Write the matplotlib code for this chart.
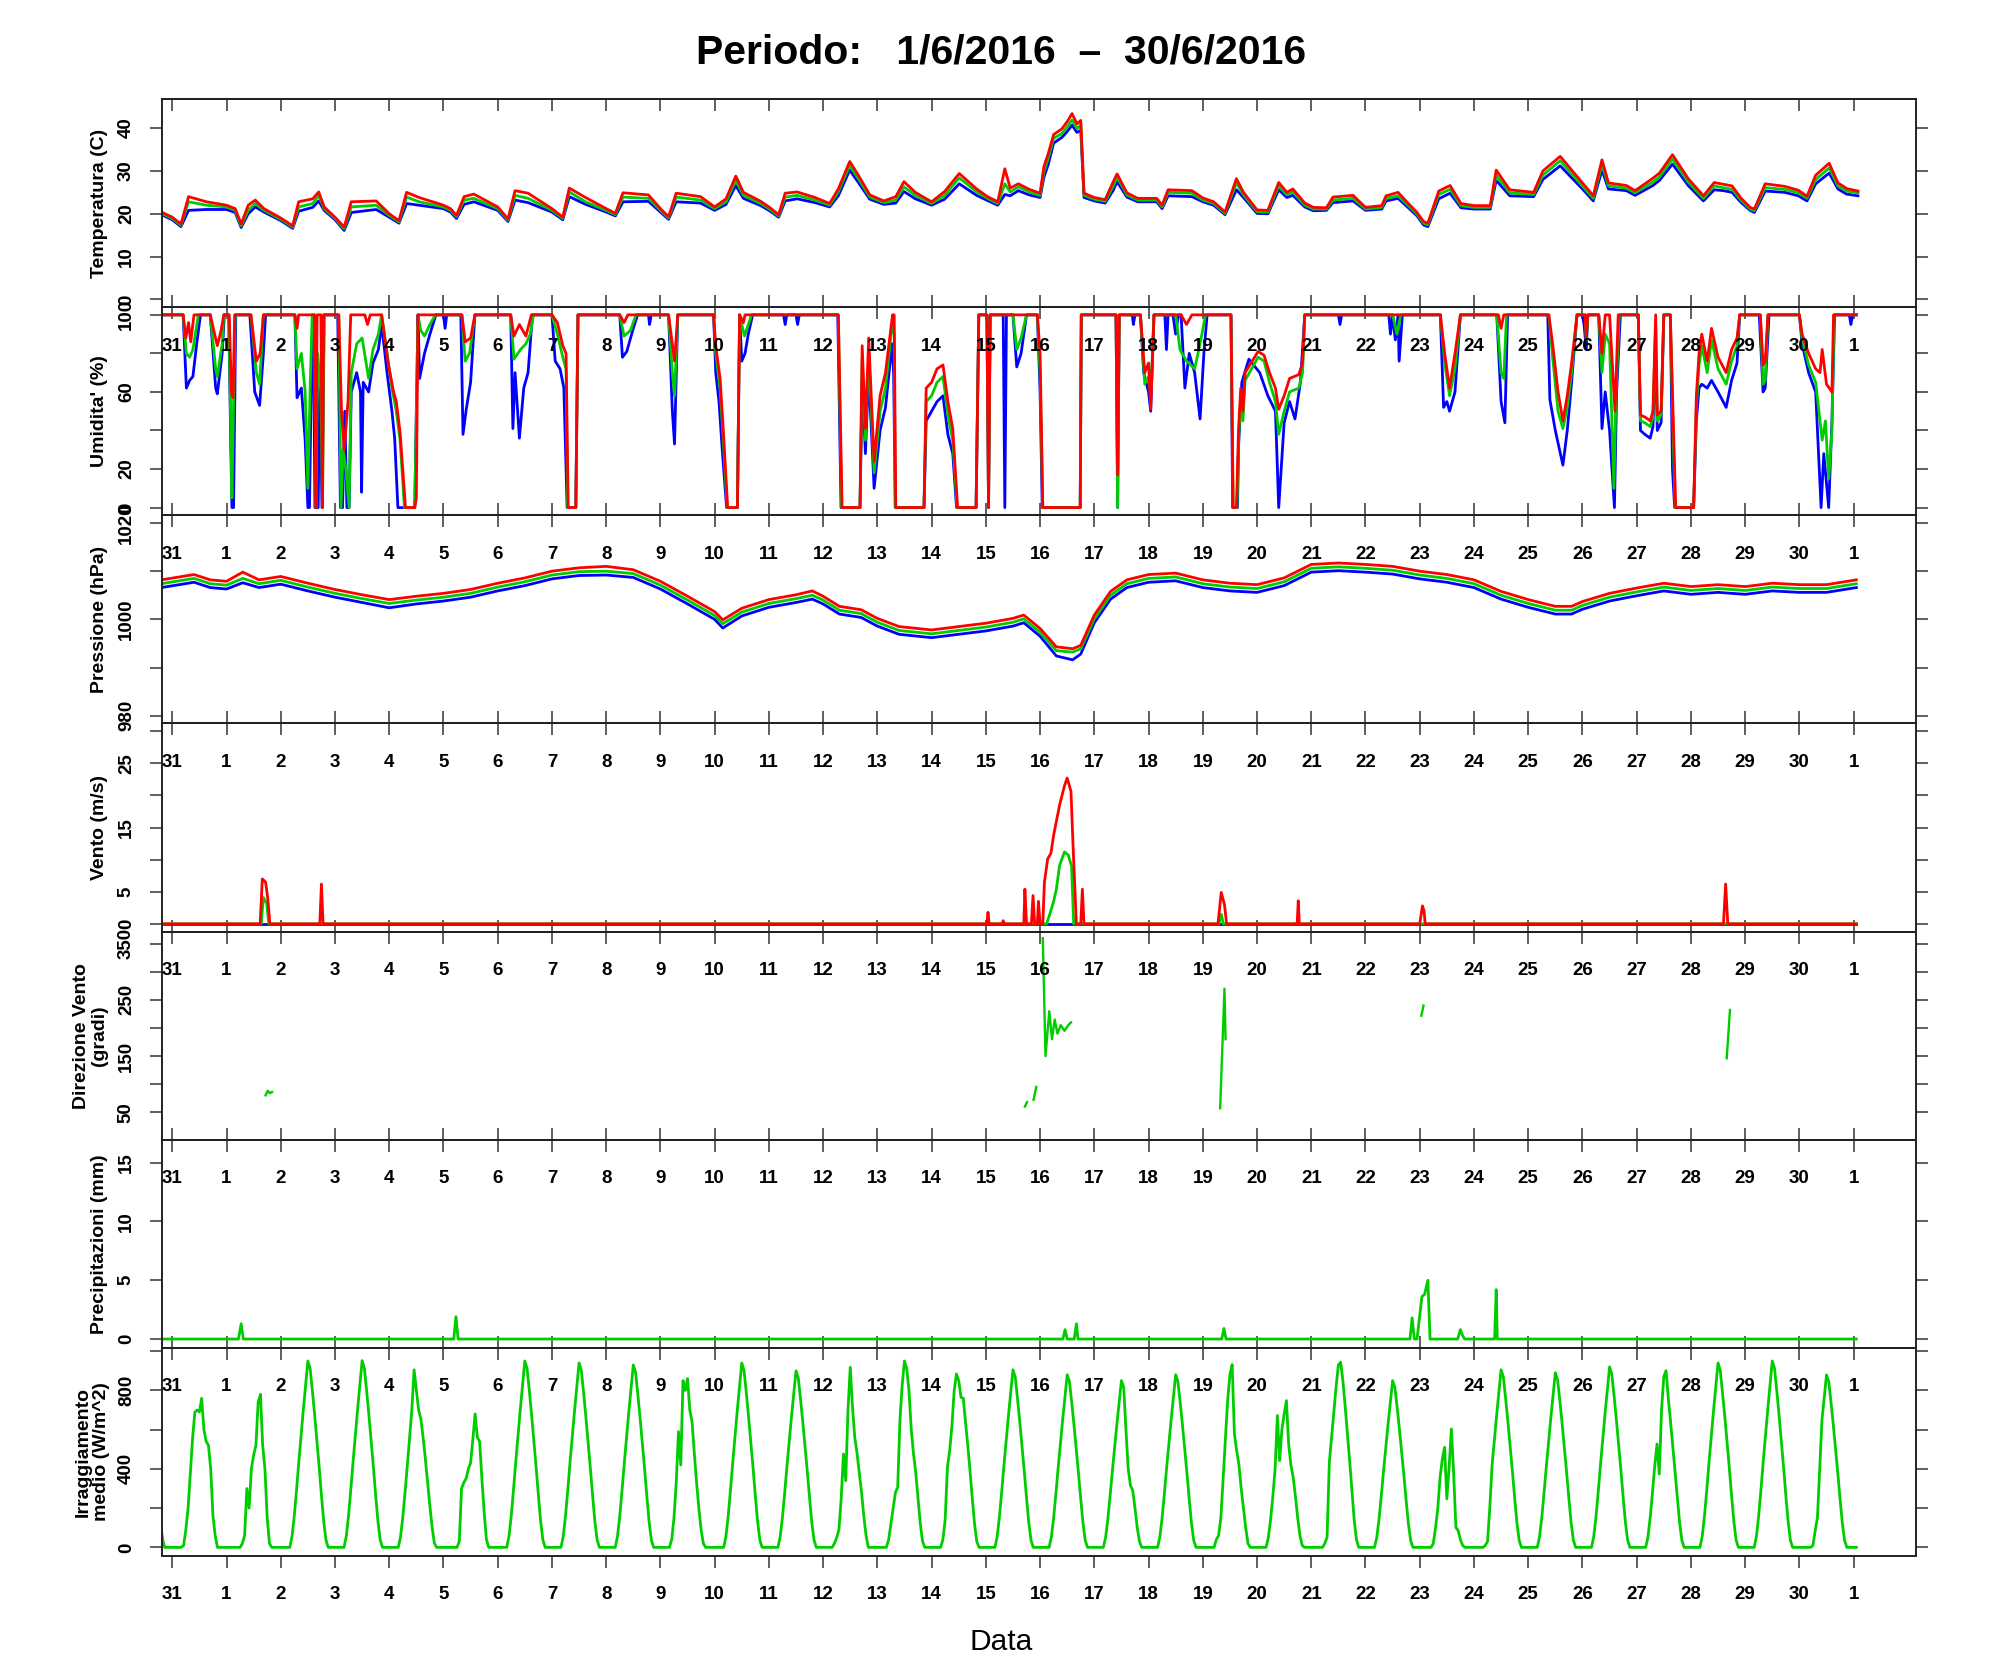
import numpy as np
import matplotlib
matplotlib.use("Agg")
import matplotlib.pyplot as plt

plt.rcParams['font.family'] = ['Liberation Sans', 'DejaVu Sans']

# ---------------- DATA (x = days since 1 June 2016 00:00) ----------------
day_ticks = list(range(-1, 31))
day_labels = ['31'] + [str(i) for i in range(1, 31)] + ['1']

# Temperature: (t, min/blue, mean/green, max/red)
temp_rows = [
    (-1.20, 19.8, 20.1, 20.4), (-1.00, 18.6, 18.9, 19.2), (-0.84, 17.0, 17.3, 17.6),
    (-0.70, 20.8, 22.8, 24.0), (-0.37, 21.0, 22.0, 22.8), (0.00, 21.0, 21.6, 22.0),
    (0.16, 20.3, 20.8, 21.2), (0.27, 16.8, 17.2, 17.6), (0.40, 20.0, 20.8, 22.0),
    (0.53, 21.6, 22.4, 23.2), (0.69, 20.4, 20.8, 21.2), (1.00, 18.4, 18.7, 19.0),
    (1.22, 16.6, 16.9, 17.2), (1.33, 20.6, 21.6, 22.8), (1.59, 21.5, 22.4, 23.5),
    (1.70, 23.0, 24.3, 25.1), (1.80, 20.8, 21.2, 21.6), (2.00, 18.6, 18.9, 19.2),
    (2.17, 16.1, 16.5, 16.9), (2.30, 20.3, 21.6, 22.8), (2.76, 21.0, 22.0, 23.0),
    (3.00, 19.2, 19.6, 20.0), (3.18, 17.8, 18.1, 18.4), (3.32, 22.4, 23.9, 25.0),
    (3.55, 22.0, 22.8, 23.8), (4.00, 21.2, 21.6, 22.0), (4.13, 20.4, 20.8, 21.2),
    (4.24, 18.9, 19.3, 19.6), (4.38, 22.2, 23.2, 24.0), (4.56, 22.8, 23.6, 24.6),
    (5.00, 20.8, 21.2, 21.6), (5.19, 18.2, 18.5, 18.8), (5.32, 23.2, 24.3, 25.4),
    (5.56, 22.6, 23.6, 24.8), (6.00, 20.4, 20.8, 21.2), (6.20, 18.6, 18.9, 19.2),
    (6.32, 24.0, 25.1, 26.0), (6.62, 22.2, 22.8, 23.8), (7.00, 20.4, 20.8, 21.2),
    (7.17, 19.5, 19.8, 20.1), (7.31, 22.8, 23.9, 24.9), (7.78, 22.9, 23.6, 24.4),
    (8.00, 20.4, 20.8, 21.2), (8.15, 18.7, 19.0, 19.3), (8.29, 22.8, 23.9, 24.8),
    (8.74, 22.5, 23.2, 24.0), (9.00, 20.8, 21.2, 21.6), (9.21, 22.2, 22.8, 23.5),
    (9.39, 26.6, 27.8, 28.8), (9.53, 23.6, 24.3, 25.0), (9.85, 21.9, 22.4, 22.9),
    (10.00, 20.8, 21.2, 21.6), (10.18, 19.2, 19.5, 19.8), (10.30, 23.0, 23.9, 24.8),
    (10.52, 23.5, 24.3, 25.1), (10.85, 22.6, 23.2, 23.8), (11.12, 21.6, 22.0, 22.4),
    (11.28, 24.2, 25.1, 25.8), (11.49, 30.2, 31.3, 32.2), (11.65, 27.3, 28.2, 29.0),
    (11.86, 23.4, 23.9, 24.4), (12.12, 22.2, 22.6, 23.0), (12.34, 22.5, 23.2, 24.0),
    (12.49, 25.2, 26.3, 27.5), (12.70, 23.5, 24.3, 25.0), (13.00, 22.0, 22.4, 22.8),
    (13.24, 23.4, 24.3, 25.2), (13.51, 27.0, 28.4, 29.4), (13.83, 24.3, 25.1, 25.8),
    (14.03, 23.1, 23.6, 24.0), (14.22, 22.0, 22.4, 22.8), (14.35, 24.5, 27.0, 30.5),
    (14.45, 24.2, 25.1, 26.0), (14.60, 25.4, 26.3, 27.0), (14.80, 24.4, 25.1, 25.7),
    (15.00, 23.8, 24.3, 24.8), (15.07, 28.5, 29.8, 31.0), (15.15, 31.5, 32.9, 34.0),
    (15.25, 36.5, 37.6, 38.5), (15.40, 37.8, 38.7, 39.8), (15.50, 39.2, 40.3, 41.5),
    (15.59, 40.7, 41.9, 43.4), (15.68, 39.0, 39.9, 41.0), (15.75, 39.5, 40.7, 41.8),
    (15.81, 23.8, 24.3, 24.8), (16.00, 23.0, 23.4, 23.8), (16.20, 22.5, 22.9, 23.3),
    (16.35, 25.5, 26.5, 27.5), (16.42, 27.5, 28.6, 29.3), (16.60, 23.9, 24.4, 24.9),
    (16.80, 22.8, 23.2, 23.6), (17.15, 22.8, 23.2, 23.6), (17.25, 21.2, 21.6, 22.0),
    (17.36, 24.2, 25.0, 25.6), (17.80, 24.0, 24.8, 25.4), (18.00, 22.8, 23.2, 23.7),
    (18.20, 22.0, 22.4, 22.8), (18.41, 19.8, 20.1, 20.4), (18.62, 25.6, 27.2, 28.2),
    (18.75, 23.8, 24.4, 25.0), (19.00, 20.1, 20.5, 20.9), (19.20, 20.0, 20.4, 20.8),
    (19.40, 25.6, 26.5, 27.3), (19.55, 23.8, 24.4, 25.0), (19.66, 24.3, 25.1, 25.8),
    (19.88, 21.6, 22.0, 22.5), (20.04, 20.7, 21.1, 21.5), (20.28, 20.8, 21.1, 21.4),
    (20.40, 22.6, 23.2, 23.9), (20.77, 23.0, 23.6, 24.3), (21.00, 20.8, 21.1, 21.5),
    (21.30, 21.1, 21.5, 21.9), (21.38, 23.0, 23.6, 24.2), (21.60, 23.6, 24.2, 25.0),
    (21.79, 21.4, 21.9, 22.4), (21.95, 19.5, 19.9, 20.3), (22.07, 17.4, 17.8, 18.2),
    (22.15, 17.0, 17.4, 17.8), (22.35, 23.5, 24.5, 25.3), (22.56, 24.8, 25.7, 26.6),
    (22.76, 21.4, 21.9, 22.4), (23.00, 21.1, 21.5, 21.9), (23.30, 21.1, 21.5, 21.9),
    (23.41, 27.8, 29.0, 30.2), (23.66, 24.2, 24.9, 25.6), (24.10, 24.0, 24.5, 25.0),
    (24.27, 28.0, 29.0, 30.0), (24.59, 31.2, 32.4, 33.4), (25.00, 25.8, 26.5, 27.2),
    (25.20, 23.0, 23.6, 24.2), (25.36, 30.2, 31.5, 32.6), (25.48, 25.8, 26.5, 27.2),
    (25.81, 25.4, 26.0, 26.6), (25.97, 24.3, 24.9, 25.4), (26.30, 26.6, 27.4, 28.3),
    (26.42, 27.8, 28.6, 29.5), (26.66, 31.6, 32.8, 33.8), (26.95, 26.6, 27.4, 28.2),
    (27.23, 23.0, 23.6, 24.2), (27.43, 25.6, 26.5, 27.3), (27.60, 25.4, 26.1, 26.9),
    (27.76, 25.0, 25.7, 26.5), (27.92, 22.7, 23.2, 23.7), (28.09, 20.8, 21.1, 21.5),
    (28.17, 20.3, 20.7, 21.1), (28.37, 25.3, 26.1, 27.0), (28.73, 25.0, 25.7, 26.4),
    (28.98, 24.2, 24.9, 25.5), (29.14, 23.0, 23.6, 24.1), (29.30, 27.0, 28.0, 29.0),
    (29.55, 29.5, 30.7, 31.8), (29.71, 25.8, 26.5, 27.2), (29.87, 24.6, 25.3, 25.9),
    (30.08, 24.2, 24.9, 25.3),
]

# Humidity breakpoints (t, %) for each series
hum_blue = [
    (-1.2, 100), (-0.80, 100), (-0.74, 62), (-0.68, 66), (-0.62, 68), (-0.55, 85), (-0.48, 100),
    (-0.30, 100), (-0.20, 62), (-0.17, 59), (-0.08, 80), (-0.04, 100),
    (0.04, 100), (0.08, 30), (0.10, 0), (0.13, 0), (0.17, 100),
    (0.43, 100), (0.52, 60), (0.61, 53), (0.68, 80), (0.72, 100),
    (1.26, 100), (1.30, 57), (1.38, 62), (1.45, 35), (1.50, 0), (1.53, 0), (1.57, 80), (1.60, 100),
    (1.63, 0), (1.69, 0), (1.72, 70), (1.76, 0), (1.80, 100),
    (2.05, 100), (2.10, 0), (2.14, 0), (2.18, 50), (2.22, 0), (2.26, 0), (2.30, 60), (2.40, 70),
    (2.47, 60), (2.49, 8), (2.52, 65), (2.62, 60), (2.70, 75), (2.80, 82), (2.86, 95),
    (2.96, 70), (3.05, 50), (3.10, 36), (3.16, 0), (3.47, 0), (3.53, 100), (3.56, 67), (3.65, 80),
    (3.75, 90), (3.86, 100), (4.00, 100), (4.03, 93), (4.06, 100),
    (4.32, 100), (4.36, 38), (4.42, 51), (4.50, 65), (4.58, 100),
    (5.24, 100), (5.28, 41), (5.32, 70), (5.40, 36), (5.48, 62), (5.56, 70), (5.64, 100),
    (6.00, 100), (6.06, 76), (6.15, 72), (6.22, 62), (6.28, 0), (6.44, 0), (6.48, 100),
    (7.25, 100), (7.30, 78), (7.38, 81), (7.50, 93), (7.58, 100), (7.78, 100), (7.80, 95), (7.83, 100),
    (8.15, 100), (8.22, 50), (8.26, 33), (8.32, 100),
    (8.98, 100), (9.02, 70), (9.08, 55), (9.14, 30), (9.22, 0), (9.42, 0), (9.46, 100), (9.50, 76),
    (9.56, 80), (9.62, 90), (9.70, 100),
    (10.27, 100), (10.30, 95), (10.33, 100), (10.50, 100), (10.53, 95), (10.56, 100),
    (11.27, 100), (11.33, 0), (11.68, 0), (11.72, 66), (11.78, 28), (11.84, 70), (11.94, 10),
    (12.05, 40), (12.15, 52), (12.27, 85), (12.30, 70), (12.33, 0), (12.86, 0), (12.90, 45),
    (13.00, 50), (13.10, 55), (13.21, 58), (13.30, 38), (13.39, 28), (13.46, 0), (13.82, 0),
    (13.87, 100), (14.02, 100), (14.05, 0), (14.08, 100), (14.32, 100), (14.35, 0), (14.38, 100),
    (14.50, 100), (14.57, 73), (14.65, 80), (14.75, 100),
    (14.95, 100), (15.00, 60), (15.04, 0), (15.74, 0), (15.76, 100),
    (16.40, 100), (16.43, 0), (16.46, 100), (16.70, 100), (16.72, 95), (16.75, 100),
    (16.85, 100), (16.91, 70), (17.00, 60), (17.04, 50), (17.10, 100),
    (17.30, 100), (17.33, 82), (17.36, 100), (17.45, 100), (17.50, 90), (17.55, 100),
    (17.60, 100), (17.67, 62), (17.75, 80), (17.85, 70), (17.95, 46), (18.02, 80), (18.08, 100),
    (18.52, 100), (18.55, 0), (18.64, 0), (18.66, 32), (18.72, 65), (18.85, 77), (19.05, 70),
    (19.20, 58), (19.34, 50), (19.40, 0), (19.50, 44), (19.60, 55), (19.70, 46), (19.80, 65),
    (19.88, 100), (20.50, 100), (20.53, 95), (20.56, 100),
    (21.43, 100), (21.46, 90), (21.50, 100), (21.55, 87), (21.60, 100), (21.62, 76), (21.68, 100),
    (22.38, 100), (22.44, 52), (22.50, 55), (22.55, 50), (22.65, 60), (22.75, 100),
    (23.42, 100), (23.50, 55), (23.57, 44), (23.62, 100),
    (24.36, 100), (24.40, 56), (24.50, 40), (24.64, 22), (24.72, 40), (24.80, 65), (24.90, 100),
    (25.00, 100), (25.03, 95), (25.07, 82), (25.10, 100),
    (25.30, 100), (25.36, 41), (25.42, 60), (25.50, 40), (25.59, 0), (25.63, 60), (25.70, 100),
    (26.03, 100), (26.07, 40), (26.15, 38), (26.25, 36), (26.30, 42), (26.35, 80), (26.38, 40),
    (26.45, 44), (26.50, 100),
    (26.62, 100), (26.66, 20), (26.70, 0), (27.05, 0), (27.10, 45), (27.15, 62), (27.20, 64),
    (27.30, 62), (27.38, 66), (27.50, 60), (27.65, 52), (27.75, 66), (27.85, 75), (27.90, 100),
    (28.26, 100), (28.33, 60), (28.37, 62), (28.44, 100),
    (29.00, 100), (29.05, 85), (29.17, 70), (29.30, 60), (29.40, 0), (29.45, 28), (29.54, 0),
    (29.60, 45), (29.65, 100), (29.92, 100), (29.95, 95), (29.98, 100), (30.05, 100),
]
hum_green = [
    (-1.2, 100), (-0.80, 100), (-0.74, 80), (-0.68, 78), (-0.62, 82), (-0.52, 100),
    (-0.30, 100), (-0.20, 72), (-0.17, 68), (-0.08, 85), (-0.05, 100),
    (0.04, 100), (0.08, 40), (0.10, 5), (0.12, 40), (0.16, 100),
    (0.45, 100), (0.55, 70), (0.61, 64), (0.68, 100),
    (1.26, 100), (1.30, 72), (1.38, 80), (1.45, 60), (1.50, 10), (1.54, 60), (1.58, 100),
    (1.62, 100), (1.65, 0), (1.68, 80), (1.74, 60), (1.77, 0), (1.80, 100),
    (2.07, 100), (2.11, 0), (2.15, 30), (2.20, 20), (2.26, 0), (2.30, 70), (2.40, 85), (2.50, 88),
    (2.62, 67), (2.70, 82), (2.80, 90), (2.86, 100),
    (2.96, 80), (3.05, 62), (3.13, 50), (3.20, 35), (3.28, 0), (3.47, 0), (3.53, 100), (3.58, 92),
    (3.65, 89), (3.75, 95), (3.85, 100),
    (4.34, 100), (4.40, 76), (4.48, 80), (4.58, 100),
    (5.24, 100), (5.30, 77), (5.42, 82), (5.52, 85), (5.60, 90), (5.66, 100),
    (6.00, 100), (6.10, 90), (6.20, 78), (6.26, 72), (6.29, 0), (6.44, 0), (6.48, 100),
    (7.25, 100), (7.33, 89), (7.45, 92), (7.55, 100),
    (8.15, 100), (8.22, 70), (8.26, 58), (8.32, 100),
    (8.98, 100), (9.02, 80), (9.10, 62), (9.16, 35), (9.23, 0), (9.42, 0), (9.46, 100), (9.55, 89),
    (9.62, 95), (9.68, 100),
    (11.28, 100), (11.34, 0), (11.68, 0), (11.72, 78), (11.78, 35), (11.84, 80), (11.94, 18),
    (12.05, 50), (12.15, 62), (12.27, 95), (12.31, 90), (12.33, 0), (12.86, 0), (12.90, 55),
    (13.00, 58), (13.10, 65), (13.21, 68), (13.30, 48), (13.39, 35), (13.47, 0), (13.82, 0),
    (13.87, 100), (14.02, 100), (14.05, 0), (14.08, 100),
    (14.50, 100), (14.57, 82), (14.65, 88), (14.75, 100),
    (14.95, 100), (15.00, 70), (15.05, 0), (15.74, 0), (15.76, 100),
    (16.40, 100), (16.43, 0), (16.46, 100),
    (16.85, 100), (16.93, 64), (17.00, 68), (17.04, 58), (17.10, 100),
    (17.50, 100), (17.58, 82), (17.70, 76), (17.85, 72), (17.95, 85), (18.05, 100),
    (18.52, 100), (18.56, 0), (18.63, 0), (18.66, 35), (18.70, 58), (18.74, 45), (18.78, 66),
    (19.02, 78), (19.13, 76), (19.23, 65), (19.34, 55), (19.40, 38), (19.50, 50), (19.60, 60),
    (19.77, 62), (19.84, 70), (19.88, 100),
    (21.50, 100), (21.58, 90), (21.65, 100),
    (22.38, 100), (22.46, 75), (22.55, 58), (22.65, 72), (22.75, 100),
    (23.42, 100), (23.50, 70), (23.55, 67), (23.60, 100),
    (24.38, 100), (24.45, 78), (24.55, 50), (24.64, 41), (24.72, 52), (24.80, 70), (24.90, 100),
    (25.05, 100), (25.07, 87), (25.10, 100),
    (25.30, 100), (25.36, 70), (25.42, 90), (25.50, 85), (25.58, 10), (25.62, 60), (25.68, 100),
    (26.03, 100), (26.07, 45), (26.15, 44), (26.25, 42), (26.30, 47), (26.35, 95), (26.38, 45),
    (26.45, 48), (26.50, 100),
    (26.62, 100), (26.68, 30), (26.71, 0), (27.05, 0), (27.10, 52), (27.15, 74), (27.20, 84),
    (27.30, 70), (27.38, 87), (27.50, 72), (27.65, 64), (27.75, 76), (27.85, 84), (27.90, 100),
    (28.28, 100), (28.33, 64), (28.37, 66), (28.42, 100),
    (29.00, 100), (29.05, 88), (29.17, 74), (29.30, 65), (29.42, 35), (29.48, 45), (29.54, 15),
    (29.60, 40), (29.64, 100), (30.05, 100),
]
hum_red = [
    (-1.2, 100), (-0.80, 100), (-0.75, 88), (-0.70, 96), (-0.66, 86), (-0.60, 100),
    (-0.30, 100), (-0.22, 90), (-0.17, 84), (-0.10, 92), (-0.05, 100),
    (0.05, 100), (0.09, 60), (0.12, 57), (0.15, 100),
    (0.45, 100), (0.55, 76), (0.62, 80), (0.68, 100),
    (1.26, 100), (1.30, 93), (1.33, 100), (1.62, 100), (1.65, 0), (1.67, 100), (1.74, 100),
    (1.77, 0), (1.79, 100),
    (2.07, 100), (2.12, 50), (2.17, 30), (2.24, 55), (2.29, 100), (2.55, 100), (2.60, 95), (2.65, 100),
    (2.86, 100), (2.98, 75), (3.08, 60), (3.13, 55), (3.20, 39), (3.30, 0), (3.47, 0), (3.50, 5),
    (3.53, 100),
    (4.34, 100), (4.40, 86), (4.50, 88), (4.58, 100),
    (5.24, 100), (5.30, 89), (5.40, 95), (5.52, 89), (5.62, 100),
    (6.00, 100), (6.10, 96), (6.20, 84), (6.26, 80), (6.30, 0), (6.44, 0), (6.48, 100),
    (7.25, 100), (7.33, 96), (7.40, 100),
    (8.15, 100), (8.22, 85), (8.26, 76), (8.32, 100),
    (8.98, 100), (9.02, 84), (9.10, 67), (9.16, 40), (9.24, 0), (9.42, 0), (9.46, 100), (9.53, 96),
    (9.56, 100),
    (11.28, 100), (11.35, 0), (11.68, 0), (11.72, 84), (11.78, 41), (11.84, 88), (11.94, 24),
    (12.05, 58), (12.15, 70), (12.28, 100), (12.31, 100), (12.34, 0), (12.86, 0), (12.90, 62),
    (13.00, 65), (13.10, 72), (13.21, 74), (13.30, 55), (13.39, 41), (13.48, 0), (13.82, 0),
    (13.87, 100), (14.02, 100), (14.05, 0), (14.08, 100),
    (14.95, 100), (15.00, 80), (15.05, 0), (15.74, 0), (15.76, 100),
    (16.40, 100), (16.43, 17), (16.46, 100),
    (16.85, 100), (16.93, 70), (17.00, 75), (17.04, 51), (17.10, 100),
    (17.60, 100), (17.70, 95), (17.80, 100),
    (18.52, 100), (18.56, 0), (18.62, 0), (18.66, 41), (18.70, 62), (18.74, 50), (18.78, 70),
    (19.02, 81), (19.13, 79), (19.23, 70), (19.34, 62), (19.40, 51), (19.50, 58), (19.60, 67),
    (19.77, 69), (19.84, 75), (19.88, 100),
    (22.38, 100), (22.46, 80), (22.55, 62), (22.65, 80), (22.75, 100),
    (23.45, 100), (23.50, 93), (23.55, 100),
    (24.38, 100), (24.45, 85), (24.55, 60), (24.64, 45), (24.72, 58), (24.80, 75), (24.90, 100),
    (25.05, 100), (25.07, 88), (25.10, 100),
    (25.30, 100), (25.36, 80), (25.42, 100), (25.50, 100), (25.55, 75), (25.60, 50), (25.66, 100),
    (26.03, 100), (26.07, 48), (26.15, 47), (26.25, 45), (26.30, 50), (26.35, 100), (26.38, 48),
    (26.45, 50), (26.50, 100),
    (26.62, 100), (26.68, 39), (26.72, 0), (27.05, 0), (27.10, 58), (27.15, 80), (27.20, 90),
    (27.30, 76), (27.38, 93), (27.50, 78), (27.65, 70), (27.75, 82), (27.85, 88), (27.90, 100),
    (28.28, 100), (28.33, 74), (28.37, 76), (28.42, 100),
    (29.00, 100), (29.05, 90), (29.17, 80), (29.30, 72), (29.38, 70), (29.42, 82), (29.50, 64),
    (29.60, 60), (29.63, 100), (30.05, 100),
]

# Pressure (t, blue, green, red) in hPa
pres_rows = [
    (-1.2, 1006.6, 1007.4, 1008.2), (-0.6, 1007.7, 1008.5, 1009.3), (-0.3, 1006.6, 1007.4, 1008.2),
    (0.0, 1006.3, 1007.1, 1007.9), (0.3, 1007.6, 1008.5, 1009.8), (0.6, 1006.6, 1007.4, 1008.2),
    (1.0, 1007.3, 1008.1, 1008.9), (1.5, 1005.9, 1006.7, 1007.5), (2.0, 1004.6, 1005.4, 1006.2),
    (2.5, 1003.5, 1004.3, 1005.1), (3.0, 1002.4, 1003.3, 1004.1), (3.5, 1003.2, 1004.0, 1004.8),
    (4.0, 1003.8, 1004.6, 1005.4), (4.5, 1004.6, 1005.4, 1006.2), (5.0, 1005.9, 1006.7, 1007.5),
    (5.5, 1007.0, 1007.8, 1008.6), (6.0, 1008.4, 1009.2, 1010.0), (6.5, 1009.1, 1009.9, 1010.7),
    (7.0, 1009.2, 1010.0, 1011.0), (7.5, 1008.7, 1009.5, 1010.3), (8.0, 1006.3, 1007.1, 1007.9),
    (8.5, 1003.2, 1004.0, 1004.8), (9.0, 1000.0, 1000.8, 1001.6), (9.15, 998.2, 999.1, 999.9),
    (9.5, 1000.7, 1001.5, 1002.3), (10.0, 1002.5, 1003.3, 1004.1), (10.5, 1003.5, 1004.3, 1005.1),
    (10.8, 1004.2, 1005.0, 1005.9), (11.0, 1003.2, 1004.0, 1004.8), (11.3, 1001.1, 1001.9, 1002.7),
    (11.7, 1000.4, 1001.2, 1002.0), (12.0, 998.6, 999.4, 1000.2), (12.4, 996.9, 997.7, 998.5),
    (13.0, 996.2, 997.0, 997.8), (13.5, 996.9, 997.7, 998.5), (14.0, 997.6, 998.4, 999.2),
    (14.5, 998.6, 999.4, 1000.2), (14.7, 999.3, 1000.1, 1000.9), (15.0, 996.5, 997.3, 998.1),
    (15.3, 992.4, 993.5, 994.3), (15.6, 991.6, 993.2, 993.9), (15.75, 992.8, 993.9, 994.6),
    (16.0, 999.3, 1000.1, 1000.9), (16.3, 1004.2, 1005.0, 1005.8), (16.6, 1006.6, 1007.4, 1008.2),
    (17.0, 1007.7, 1008.5, 1009.3), (17.5, 1008.0, 1008.8, 1009.6), (18.0, 1006.6, 1007.4, 1008.2),
    (18.5, 1005.9, 1006.7, 1007.5), (19.0, 1005.6, 1006.4, 1007.2), (19.5, 1007.0, 1007.8, 1008.6),
    (20.0, 1009.8, 1010.6, 1011.4), (20.5, 1010.1, 1010.9, 1011.7), (21.0, 1009.8, 1010.6, 1011.4),
    (21.5, 1009.4, 1010.2, 1011.0), (22.0, 1008.4, 1009.2, 1010.0), (22.5, 1007.7, 1008.5, 1009.3),
    (23.0, 1006.6, 1007.4, 1008.2), (23.5, 1004.2, 1005.0, 1005.8), (24.0, 1002.5, 1003.3, 1004.1),
    (24.5, 1001.1, 1001.9, 1002.7), (24.8, 1001.1, 1001.9, 1002.7), (25.0, 1002.1, 1002.9, 1003.7),
    (25.5, 1003.8, 1004.6, 1005.4), (26.0, 1004.9, 1005.7, 1006.5), (26.5, 1005.9, 1006.7, 1007.5),
    (27.0, 1005.2, 1006.0, 1006.8), (27.5, 1005.6, 1006.4, 1007.2), (28.0, 1005.2, 1006.0, 1006.8),
    (28.5, 1005.9, 1006.7, 1007.5), (29.0, 1005.6, 1006.4, 1007.2), (29.5, 1005.6, 1006.4, 1007.2),
    (30.05, 1006.6, 1007.4, 1008.2),
]

# Wind speed (m/s)
wind_blue = [(-1.2, 0), (30.05, 0)]
wind_green = [
    (-1.2, 0), (0.64, 0), (0.68, 4.1), (0.74, 3.2), (0.78, 0),
    (15.12, 0), (15.19, 1.8), (15.25, 3.5), (15.30, 5.4), (15.36, 9.1), (15.45, 11.2),
    (15.52, 10.7), (15.58, 9.0), (15.62, 0),
    (18.30, 0), (18.34, 1.5), (18.38, 0), (30.05, 0),
]
wind_red = [
    (-1.2, 0), (0.62, 0), (0.66, 7.0), (0.72, 6.5), (0.76, 4.0), (0.80, 0),
    (1.72, 0), (1.75, 6.2), (1.78, 0),
    (14.02, 0), (14.04, 1.8), (14.06, 0), (14.30, 0), (14.32, 0.5), (14.34, 0),
    (14.70, 0), (14.72, 5.4), (14.75, 0), (14.84, 0), (14.87, 4.4), (14.90, 0),
    (14.95, 0), (14.97, 3.5), (15.00, 0),
    (15.05, 0), (15.08, 6.5), (15.14, 10.1), (15.20, 11.0), (15.25, 13.8), (15.36, 18.5),
    (15.45, 21.5), (15.50, 22.7), (15.57, 20.6), (15.61, 11.7), (15.67, 0),
    (15.75, 0), (15.78, 5.4), (15.81, 0),
    (18.28, 0), (18.34, 4.9), (18.40, 3.0), (18.44, 0),
    (19.74, 0), (19.76, 3.6), (19.78, 0),
    (22.00, 0), (22.05, 2.8), (22.08, 2.0), (22.10, 0),
    (27.60, 0), (27.64, 6.2), (27.68, 0), (30.05, 0),
]

# Wind direction (degrees): separate observed fragments
dir_segments = [
    [(0.72, 80), (0.76, 88), (0.80, 84), (0.84, 86)],
    [(14.72, 60), (14.76, 68)],
    [(14.88, 72), (14.93, 95)],
    [(15.05, 360), (15.10, 150), (15.17, 230), (15.22, 180), (15.27, 215), (15.32, 190),
     (15.38, 205), (15.45, 195), (15.52, 205), (15.57, 210)],
    [(18.32, 57), (18.40, 270), (18.42, 180)],
    [(22.03, 222), (22.07, 240)],
    [(27.66, 146), (27.72, 232)],
]

# Precipitation (mm)
rain = [
    (-1.2, 0), (0.22, 0), (0.27, 1.3), (0.31, 0),
    (4.19, 0), (4.23, 1.9), (4.27, 0),
    (15.42, 0), (15.46, 0.8), (15.50, 0), (15.63, 0), (15.67, 1.3), (15.70, 0),
    (18.35, 0), (18.39, 0.9), (18.43, 0),
    (21.82, 0), (21.86, 1.8), (21.90, 0), (21.95, 0), (22.04, 3.6), (22.09, 3.8), (22.15, 5.0),
    (22.19, 0), (22.70, 0), (22.75, 0.8), (22.79, 0.3), (22.83, 0),
    (23.38, 0), (23.41, 4.2), (23.43, 0), (30.05, 0),
]

# Mean irradiance (W/m^2): hourly values 04:00..21:00 for each day (31 May .. 30 June)
irr_hours = list(range(4, 22))
irr_days = list(range(-1, 30))
irr_rows = [
    [0, 10, 90, 200, 380, 560, 690, 700, 690, 760, 600, 540, 520, 400, 160, 60, 0, 0],
    [0, 0, 0, 20, 60, 300, 200, 400, 470, 520, 740, 780, 520, 400, 150, 20, 0, 0],
    [0, 57, 162, 295, 437, 570, 703, 827, 950, 912, 798, 675, 542, 409, 266, 133, 38, 0],
    [0, 57, 162, 295, 437, 570, 703, 827, 952, 912, 798, 675, 542, 409, 266, 133, 38, 0],
    [0, 54, 154, 281, 416, 560, 700, 905, 800, 700, 655, 560, 450, 330, 210, 100, 20, 0],
    [0, 0, 0, 30, 300, 330, 350, 400, 430, 550, 680, 560, 540, 350, 180, 40, 0, 0],
    [0, 57, 162, 295, 437, 570, 703, 827, 950, 912, 798, 675, 542, 409, 266, 133, 38, 0],
    [0, 56, 160, 291, 432, 564, 696, 818, 940, 902, 790, 667, 536, 404, 263, 132, 38, 0],
    [0, 56, 158, 288, 428, 558, 688, 809, 930, 893, 781, 660, 530, 400, 260, 130, 37, 0],
    [0, 40, 150, 330, 590, 420, 850, 800, 860, 700, 640, 480, 330, 200, 90, 20, 0, 0],
    [0, 56, 160, 291, 432, 564, 696, 818, 940, 902, 790, 667, 536, 404, 263, 132, 38, 0],
    [0, 54, 153, 279, 414, 540, 666, 783, 900, 864, 756, 639, 513, 387, 252, 126, 36, 0],
    [0, 20, 50, 90, 250, 476, 340, 700, 918, 714, 561, 480, 380, 280, 160, 60, 0, 0],
    [0, 40, 120, 200, 280, 306, 650, 830, 950, 912, 798, 600, 476, 380, 250, 120, 30, 0],
    [0, 40, 140, 408, 493, 620, 800, 884, 850, 765, 760, 640, 520, 390, 250, 120, 30, 0],
    [0, 54, 154, 281, 416, 543, 670, 787, 905, 869, 760, 643, 516, 389, 253, 127, 36, 0],
    [0, 53, 150, 273, 405, 528, 651, 766, 880, 845, 739, 625, 502, 378, 246, 123, 35, 0],
    [0, 51, 145, 264, 391, 510, 629, 740, 850, 816, 600, 400, 315, 290, 200, 100, 30, 0],
    [0, 53, 150, 273, 405, 528, 651, 766, 880, 845, 739, 625, 502, 378, 246, 123, 35, 0],
    [0, 0, 40, 60, 150, 350, 550, 750, 880, 932, 578, 493, 420, 300, 200, 100, 20, 0],
    [0, 50, 140, 260, 400, 672, 442, 600, 680, 748, 527, 420, 357, 260, 150, 60, 10, 0],
    [0, 0, 20, 51, 434, 560, 690, 820, 930, 944, 850, 720, 580, 440, 290, 140, 40, 0],
    [0, 51, 145, 264, 391, 510, 629, 740, 850, 816, 714, 604, 485, 366, 238, 119, 34, 0],
    [0, 0, 20, 100, 200, 357, 450, 510, 247, 408, 604, 380, 102, 85, 40, 10, 0, 0],
    [0, 10, 30, 200, 416, 543, 670, 787, 905, 869, 760, 643, 516, 389, 253, 127, 36, 0],
    [0, 53, 151, 276, 409, 534, 659, 774, 890, 854, 748, 632, 507, 383, 249, 125, 36, 0],
    [0, 55, 156, 285, 423, 552, 681, 800, 920, 883, 773, 653, 524, 396, 258, 129, 37, 0],
    [0, 54, 154, 281, 416, 527, 374, 700, 870, 901, 760, 640, 510, 385, 250, 125, 36, 0],
    [0, 56, 160, 291, 432, 564, 696, 818, 940, 902, 782, 667, 536, 404, 263, 132, 38, 0],
    [0, 57, 162, 295, 437, 570, 703, 827, 950, 912, 798, 675, 542, 409, 266, 133, 38, 0],
    [0, 0, 10, 85, 153, 400, 651, 766, 879, 845, 739, 625, 502, 378, 246, 123, 35, 0],
]
irr_lead = [(-1.21, 100), (-1.17, 30), (-1.14, 0)]
irr_tail = [(30.05, 0)]

# ---------------- FIGURE ----------------
W, H = 1991, 1680
fig = plt.figure(figsize=(W / 100, H / 100), dpi=100)
fig.patch.set_facecolor('white')

BLUE, GREEN, RED = '#0000FF', '#00CD00', '#FF0000'
LW = 2.0
XMIN, XMAX = -1.197, 31.15
left_px, right_px, top_px, bot_px = 161.6, 1916.0, 99.0, 1556.0
panel_h = (bot_px - top_px) / 7.0
TICKLEN = 8.6
TICKFS = 13.5
LABFS = 14.0


def unzip(pairs):
    a = np.array(pairs, dtype=float)
    return [a[:, k] for k in range(a.shape[1])]


axes = []
for i in range(7):
    y_top = top_px + i * panel_h
    ax = fig.add_axes([left_px / W, 1 - (y_top + panel_h) / H,
                       (right_px - left_px) / W, panel_h / H])
    ax.set_xlim(XMIN, XMAX)
    for s in ax.spines.values():
        s.set_linewidth(1.4)
        s.set_color('#222222')
    ax.set_xticks(day_ticks)
    last = (i == 6)
    ax.tick_params(axis='x', direction='out' if last else 'in', length=TICKLEN,
                   width=1.2, color='#444444', bottom=True, top=False,
                   labelbottom=last, labelsize=TICKFS, pad=13)
    if last:
        ax.set_xticklabels(day_labels, fontweight='bold')
    sec = ax.secondary_xaxis('top')
    sec.set_xticks(day_ticks)
    sec.set_xticklabels([])
    sec.tick_params(axis='x', direction='in', length=TICKLEN, width=1.2, color='#444444')
    sec.spines['top'].set_linewidth(1.4)
    ax.tick_params(axis='y', direction='out', length=TICKLEN, width=1.2, color='#444444',
                   left=True, right=True, labelsize=TICKFS, pad=10.6)
    if i > 0:
        for d, lab in zip(day_ticks, day_labels):
            ax.text(d, 1 - 39.0 / panel_h, lab, transform=ax.get_xaxis_transform(),
                    ha='center', va='center', fontsize=TICKFS, fontweight='bold',
                    color='black', clip_on=False, zorder=5)
    axes.append(ax)


def set_y(ax, lim, ticks, labels):
    ax.set_ylim(*lim)
    ax.set_yticks(ticks)
    ax.set_yticklabels(labels, rotation=90, va='center', fontweight='bold')


# 1 Temperature
ax = axes[0]
t, b, g, r = unzip(temp_rows)
ax.plot(t, b, color=BLUE, lw=LW)
ax.plot(t, g, color=GREEN, lw=LW)
ax.plot(t, r, color=RED, lw=LW)
set_y(ax, (-1.8, 46.8), [0, 10, 20, 30, 40], ['0', '10', '20', '30', '40'])

# 2 Humidity
ax = axes[1]
for series, col in ((hum_blue, BLUE), (hum_green, GREEN), (hum_red, RED)):
    t, v = unzip(series)
    ax.plot(t, v, color=col, lw=LW)
set_y(ax, (-4, 104), [0, 20, 40, 60, 80, 100], ['0', '20', '', '60', '', '100'])

# 3 Pressure
ax = axes[2]
t, b, g, r = unzip(pres_rows)
ax.plot(t, b, color=BLUE, lw=LW)
ax.plot(t, g, color=GREEN, lw=LW)
ax.plot(t, r, color=RED, lw=LW)
set_y(ax, (978.4, 1021.6), [980, 990, 1000, 1010, 1020], ['980', '', '1000', '', '1020'])

# 4 Wind speed
ax = axes[3]
for series, col in ((wind_blue, BLUE), (wind_green, GREEN), (wind_red, RED)):
    t, v = unzip(series)
    ax.plot(t, v, color=col, lw=LW)
set_y(ax, (-1.2, 31.2), [0, 5, 10, 15, 20, 25, 30], ['0', '5', '', '15', '', '25', ''])

# 5 Wind direction
ax = axes[4]
for seg in dir_segments:
    t, v = unzip(seg)
    ax.plot(t, v, color=GREEN, lw=1.7)
set_y(ax, (0.9, 371.8), [50, 100, 150, 200, 250, 300, 350],
      ['50', '', '150', '', '250', '', '350'])

# 6 Precipitation
ax = axes[5]
t, v = unzip(rain)
ax.plot(t, v, color=GREEN, lw=LW)
set_y(ax, (-0.75, 16.95), [0, 5, 10, 15], ['0', '5', '10', '15'])

# 7 Irradiance
ax = axes[6]
irr_t = [p[0] for p in irr_lead]
irr_v = [p[1] for p in irr_lead]
for d, row in zip(irr_days, irr_rows):
    for h, val in zip(irr_hours, row):
        irr_t.append(d + h / 24.0)
        irr_v.append(val)
irr_t += [p[0] for p in irr_tail]
irr_v += [p[1] for p in irr_tail]
ax.plot(irr_t, irr_v, color=GREEN, lw=LW)
set_y(ax, (-44, 1017), [0, 200, 400, 600, 800, 1000], ['0', '', '400', '', '800', ''])

# y labels
ylabels = ['Temperatura (C)', "Umidita' (%)", 'Pressione (hPa)', 'Vento (m/s)',
           'Direzione Vento\n(gradi)', 'Precipitazioni (mm)', 'Irraggiamento\nmedio (W/m^2)']
ylab_x = [99, 99, 99, 99, 90.5, 99, 92.5]
for i, (lab, xp) in enumerate(zip(ylabels, ylab_x)):
    yc = top_px + panel_h * (i + 0.5)
    fig.text(xp / W, 1 - yc / H, lab, rotation=90, ha='center', va='center',
             fontsize=LABFS, fontweight='bold', multialignment='center', linespacing=1.15)

# title and x label
fig.text(0.503, 1 - 63 / H, 'Periodo:   1/6/2016  \u2013  30/6/2016', ha='center',
         va='baseline', fontsize=29.5, fontweight='bold')
fig.text(0.503, 1 - 1650 / H, 'Data', ha='center', va='baseline', fontsize=21.5)

fig.savefig('out.png', dpi=100)
